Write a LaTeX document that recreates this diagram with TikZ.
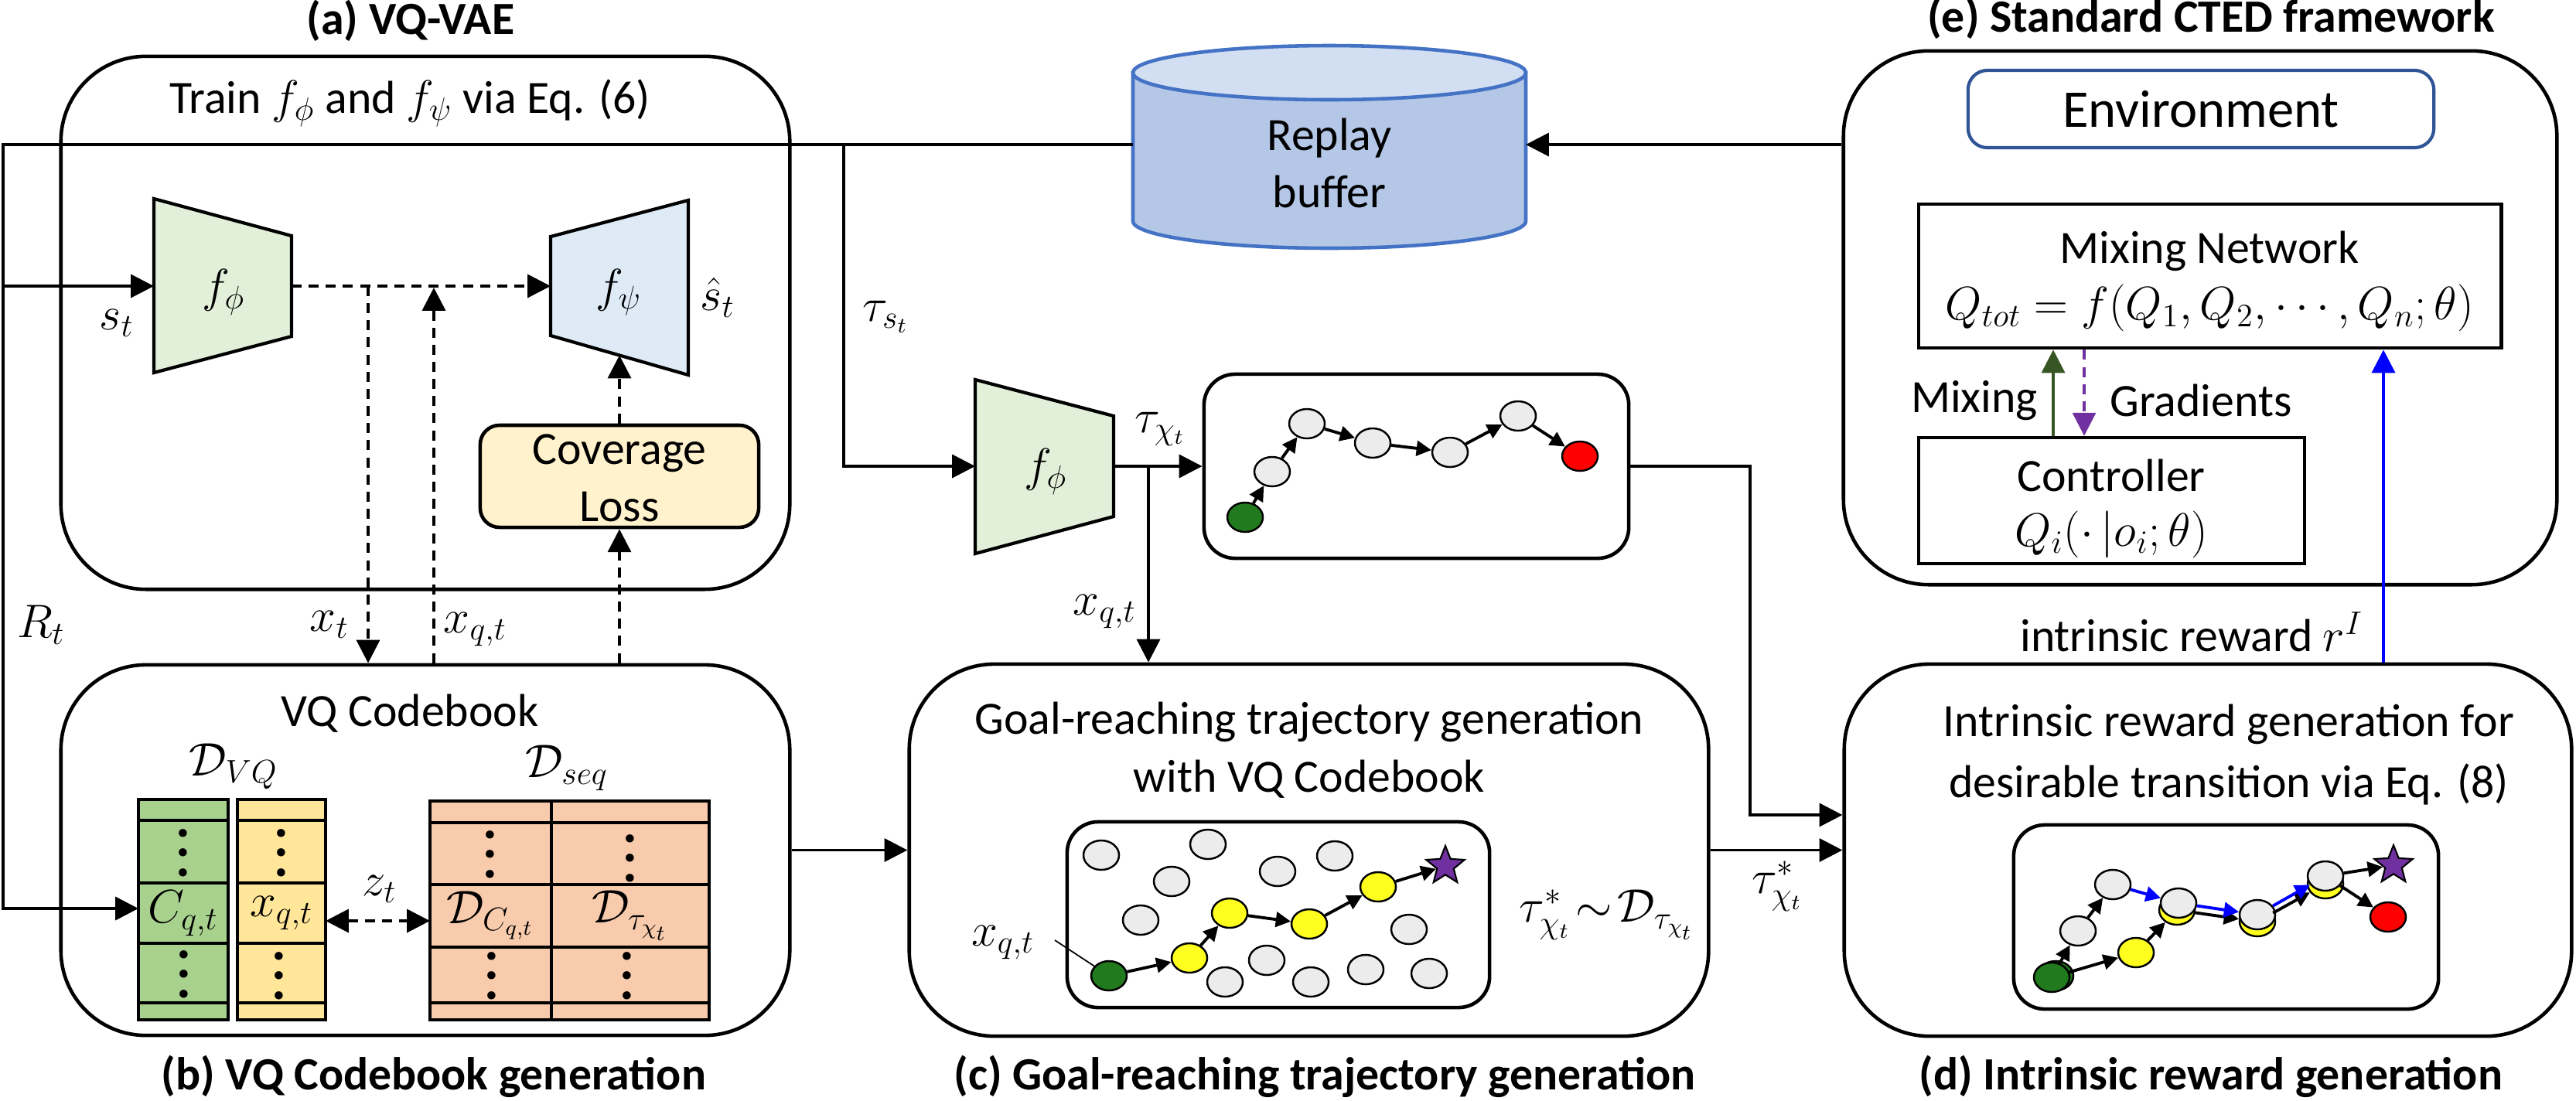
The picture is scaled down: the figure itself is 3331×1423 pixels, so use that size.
\documentclass[tikz,border=0pt]{standalone}
\usepackage{fontspec}
\setmainfont{Carlito}
\usetikzlibrary{arrows.meta,shapes.geometric}
\definecolor{encgreen}{HTML}{E2F0D9}
\definecolor{decblue}{HTML}{DEEBF7}
\definecolor{covyellow}{HTML}{FFF2CC}
\definecolor{cbgreen}{HTML}{A9D18E}
\definecolor{cbyellow}{HTML}{FFE699}
\definecolor{cborange}{HTML}{F8CBAD}
\definecolor{rbfill}{HTML}{B4C7E7}
\definecolor{rbtop}{HTML}{D2DEF2}
\definecolor{rbborder}{HTML}{4472C4}
\definecolor{envblue}{HTML}{2F5597}
\definecolor{nodegray}{HTML}{ECECEC}
\definecolor{nodeyellow}{HTML}{FFFF1F}
\definecolor{startgreen}{HTML}{217A1E}
\definecolor{goalpurple}{HTML}{7030A0}
\definecolor{mixgreen}{HTML}{375623}
\newcommand\bodyfont{\fontsize{17}{20.5}\selectfont}
\newcommand\titlefont{\fontsize{17}{20.5}\selectfont\bfseries}
\newcommand\envfont{\fontsize{19.5}{23}\selectfont}
\newcommand\trapfont{\fontsize{18}{22}\selectfont}
\newcommand\bigdots{{\fontsize{20}{20}\selectfont\bfseries\vbox{\baselineskip=7.2pt\lineskiplimit=-10pt\hbox{.}\hbox{.}\hbox{.}}}}
\begin{document}
\begin{tikzpicture}[x=0.01cm,y=-0.01cm,
  ln/.style={line width=1.1pt},
  arr/.style={line width=1.1pt,-{Triangle[length=8.5pt,width=8.5pt]}},
  darr/.style={arr,dash pattern=on 3.7pt off 2.6pt},
  ddarr/.style={line width=1.1pt,{Triangle[length=8.5pt,width=8.5pt]}-{Triangle[length=8.5pt,width=8.5pt]},dash pattern=on 3.7pt off 2.6pt},
  bigbox/.style={draw,line width=1.3pt,rounded corners=1.1cm,inner sep=0pt},
  smallbox/.style={draw,line width=1.3pt,rounded corners=0.4cm,inner sep=0pt},
  sqbox/.style={draw,line width=1.3pt,inner sep=0pt},
  tab/.style={line width=1.4pt},
  txt/.style={font=\bodyfont,inner sep=0pt},
  ttl/.style={font=\titlefont,inner sep=0pt},
  tn/.style={ellipse,draw,line width=0.7pt,minimum width=0.46cm,minimum height=0.38cm,inner sep=0pt},
  gn/.style={tn,fill=nodegray},
  yn/.style={tn,fill=nodeyellow},
  sn/.style={tn,fill=startgreen},
  rn/.style={tn,fill=red},
  goal/.style={star,star points=5,star point ratio=2.3,draw,line width=0.6pt,fill=goalpurple,minimum size=0.52cm,inner sep=0pt},
  tarr/.style={line width=1.1pt,-{Triangle[length=5.5pt,width=5.5pt]}},
  barr/.style={tarr,blue}
]
\useasboundingbox (0,0) rectangle (3331,1423);

% ---------------- titles
\node[ttl] (ttlA) at (531,27) {(a) VQ-VAE};
\node[ttl] (ttlE) at (2859,24) {(e) Standard CTED framework};
\node[ttl] (ttlB) at (561,1392) {(b) VQ Codebook generation};
\node[ttl] (ttlC) at (1713,1392) {(c) Goal-reaching trajectory generation};
\node[ttl] (ttlD) at (2859,1392) {(d) Intrinsic reward generation};

% ---------------- big boxes
\node[bigbox,minimum width=9.42cm,minimum height=6.89cm] (boxA) at (550,417.5) {};
\node[bigbox,minimum width=9.42cm,minimum height=4.79cm] (boxB) at (550,1099.5) {};
\node[bigbox,minimum width=10.33cm,minimum height=4.81cm] (boxC) at (1692.5,1099.5) {};
\node[bigbox,minimum width=9.40cm,minimum height=4.81cm] (boxD) at (2855,1099.5) {};
\node[bigbox,minimum width=9.22cm,minimum height=6.90cm] (boxE) at (2845,411) {};

% ---------------- (a) VQ-VAE
\node[txt] (trainTxt) at (530,133) {Train $f_\phi$ and $f_\psi$ via Eq. (6)};
\draw[line width=1.2pt,fill=encgreen] (199,257) -- (377,305) -- (377,435) -- (199,482) -- cycle;
\node[inner sep=0pt,font=\trapfont] (encTxt) at (289,378) {$f_\phi$};
\draw[line width=1.2pt,fill=decblue] (712,306) -- (890,259) -- (890,485) -- (712,434) -- cycle;
\node[inner sep=0pt,font=\trapfont] (decTxt) at (800,378) {$f_\psi$};
\node[txt] (shat) at (928,385) {$\hat{s}_t$};
\node[txt] (stLbl) at (151,418) {$s_t$};
\node[smallbox,rounded corners=0.25cm,fill=covyellow,minimum width=3.6cm,minimum height=1.32cm] (cov) at (801,616) {};
\node[txt,align=center] (covTxt) at (801,618) {Coverage\\[0.5pt]Loss};

% ---------------- replay buffer
\draw[rbborder,line width=1.3pt,fill=rbfill] (1465,94) -- (1465,286) -- plot[domain=180:0,samples=60] ({1719+254*cos(\x)},{286+35*sin(\x)}) -- (1973,94) -- cycle;
\draw[rbborder,line width=1.3pt,fill=rbtop] (1719,94) ellipse [x radius=254,y radius=35];
\node[txt,align=center] (rbTxt) at (1719,211) {Replay\\[0.5pt]buffer};

% ---------------- (b) VQ Codebook
\node[txt] (vqcb) at (530,923) {VQ Codebook};
\node[txt] (dvq) at (302,991) {$\mathcal{D}_{VQ}$};
\node[txt] (dseq) at (733,993) {$\mathcal{D}_{seq}$};
\draw[tab,fill=cbgreen] (179,1034) rectangle (295,1319);
\foreach \yy in {1061,1142,1220,1297} \draw[tab] (179,\yy) -- (295,\yy);
\draw[tab,fill=cbyellow] (307,1034) rectangle (421,1319);
\foreach \yy in {1061,1142,1220,1297} \draw[tab] (307,\yy) -- (421,\yy);
\draw[tab,fill=cborange] (556,1036) rectangle (917,1319);
\foreach \yy in {1064,1144,1225,1297} \draw[tab] (556,\yy) -- (917,\yy);
\draw[tab] (713,1036) -- (713,1319);
\node[txt] (cqt) at (237,1181) {$C_{q,t}$};
\node[txt] (xqtCell) at (364,1181) {$x_{q,t}$};
\node[txt] (dcq) at (634,1184) {$\mathcal{D}_{C_{q,t}}$};
\node[txt] (dtau) at (815,1184) {$\mathcal{D}_{\tau_{\chi_t}}$};
\node[inner sep=0pt] (v1) at (237,1103) {\bigdots};
\node[inner sep=0pt] (v2) at (364,1103) {\bigdots};
\node[inner sep=0pt] (v3) at (634,1105) {\bigdots};
\node[inner sep=0pt] (v4) at (815,1110) {\bigdots};
\node[inner sep=0pt] (v5) at (238,1260) {\bigdots};
\node[inner sep=0pt] (v6) at (361,1262) {\bigdots};
\node[inner sep=0pt] (v7) at (636,1262) {\bigdots};
\node[inner sep=0pt] (v8) at (811,1262) {\bigdots};
\coordinate (yelE) at (421,1191);
\coordinate (orW) at (556,1191);
\draw[ddarr] (yelE) -- (orW);
\node[txt] (zt) at (491,1150) {$z_t$};

% ---------------- labels around (a)/(b)
\node[txt] (RtLbl) at (53,808) {$R_t$};
\node[txt] (xtLbl) at (426,808) {$x_t$};
\node[txt,anchor=west] (xqLbl) at (573,814) {$x_{q,t}$};

% ---------------- trajectory box (top middle)
\draw[line width=1.2pt,fill=encgreen] (1261,491) -- (1440,538) -- (1440,668) -- (1261,716) -- cycle;
\node[inner sep=0pt,font=\trapfont] (enc2Txt) at (1352,610) {$f_\phi$};
\node[smallbox,minimum width=5.49cm,minimum height=2.38cm] (trbox) at (1831.5,603) {};
\node[sn] (t0) at (1610,669) {};
\node[gn] (t1) at (1645,610) {};
\node[gn] (t2) at (1690,548) {};
\node[gn] (t3) at (1775,573) {};
\node[gn] (t4) at (1875,585) {};
\node[gn] (t5) at (1963,538) {};
\node[rn] (t6) at (2043,590) {};
\draw[tarr] (t0) -- (t1);
\draw[tarr] (t1) -- (t2);
\draw[tarr] (t2) -- (t3);
\draw[tarr] (t3) -- (t4);
\draw[tarr] (t4) -- (t5);
\draw[tarr] (t5) -- (t6);
\node[txt] (tauSt) at (1145,410) {$\tau_{s_t}$};
\node[txt] (tauChi) at (1500,555) {$\tau_{\chi_t}$};
\node[txt,anchor=east] (xq2Lbl) at (1470,791) {$x_{q,t}$};

% ---------------- (c)
\node[txt,align=center] (cTxt) at (1693,970) {Goal-reaching trajectory generation\\[1pt]with VQ Codebook};
\node[smallbox,minimum width=5.46cm,minimum height=2.40cm] (cin) at (1653,1183) {};
\node[gn] (c1) at (1424,1106) {};
\node[gn] (c2) at (1562,1092) {};
\node[gn] (c3) at (1515,1140) {};
\node[gn] (c4) at (1652,1127) {};
\node[gn] (c5) at (1726,1107) {};
\node[gn] (c6) at (1475,1190) {};
\node[gn] (c7) at (1822,1202) {};
\node[gn] (c8) at (1638,1242) {};
\node[gn] (c9) at (1584,1270) {};
\node[gn] (c10) at (1695,1270) {};
\node[gn] (c11) at (1766,1254) {};
\node[gn] (c12) at (1848,1259) {};
\node[sn] (cs) at (1434,1262) {};
\node[yn] (cy1) at (1538,1239) {};
\node[yn] (cy2) at (1590,1181) {};
\node[yn] (cy3) at (1693,1195) {};
\node[yn] (cy4) at (1782,1147) {};
\node[goal] (cgoal) at (1869,1120) {};
\draw[tarr] (cs) -- (cy1);
\draw[tarr] (cy1) -- (cy2);
\draw[tarr] (cy2) -- (cy3);
\draw[tarr] (cy3) -- (cy4);
\draw[tarr] (cy4) -- (cgoal);
\node[txt] (xqC) at (1297,1219) {$x_{q,t}$};
\coordinate (ptr) at (1364,1216);
\draw[line width=0.5pt] (ptr) -- (cs);
\node[txt] (sampleTxt) at (2078,1183) {$\tau^{*}_{\chi_t}\!\sim\!\mathcal{D}_{\tau_{\chi_t}}$};
\node[txt] (tauStar) at (2298,1146) {$\tau^{*}_{\chi_t}$};

% ---------------- (d)
\node[txt,align=center] (dTxt) at (2882,976) {Intrinsic reward generation for\\[2pt]desirable transition via Eq. (8)};
\node[smallbox,minimum width=5.49cm,minimum height=2.38cm] (din) at (2878.5,1186) {};
\node[sn] (dsb) at (2658,1262) {};
\node[sn] (ds) at (2653,1264) {};
\node[gn] (da) at (2687,1204) {};
\node[gn] (db) at (2732,1144) {};
\node[yn] (dy) at (2762,1232) {};
\node[yn] (dcy) at (2815,1177) {};
\node[gn] (dcg) at (2817,1168) {};
\node[yn] (ddy) at (2919,1192) {};
\node[gn] (ddg) at (2919,1183) {};
\node[yn] (dey) at (3007,1143) {};
\node[gn] (deg) at (3007,1133) {};
\node[goal] (dgoal) at (3095,1119) {};
\node[rn] (dred) at (3088,1186) {};
\draw[tarr] (ds) -- (da);
\draw[tarr] (da) -- (db);
\draw[tarr] (ds) -- (dy);
\draw[tarr] (dy) -- (dcy);
\draw[tarr] (dcy) -- (ddy);
\draw[tarr] (ddy) -- (dey);
\draw[barr] (db) -- (dcg);
\draw[barr] (dcg) -- (ddg);
\draw[barr] (ddg) -- (deg);
\draw[tarr] (deg) -- (dgoal);
\draw[tarr] (deg) -- (dred);

% ---------------- (e)
\node[draw=envblue,line width=1.2pt,rounded corners=0.25cm,minimum width=6.02cm,minimum height=1.0cm,inner sep=0pt] (env) at (2846,141) {};
\node[inner sep=0pt,font=\envfont] (envTxt) at (2846,141) {Environment};
\node[sqbox,minimum width=7.53cm,minimum height=1.86cm] (mix) at (2857.5,357) {};
\node[txt] (mixTxt) at (2857,325) {Mixing Network};
\node[txt] (mixEq) at (2857,398) {$Q_{tot}=f(Q_1,Q_2,\cdots,Q_n;\theta)$};
\node[sqbox,minimum width=4.99cm,minimum height=1.63cm] (ctrl) at (2730.5,647.5) {};
\node[txt] (ctrlTxt) at (2730,615) {Controller};
\node[txt] (ctrlEq) at (2730,691) {$Q_i(\cdot\,|o_i;\theta)$};
\node[txt] (mixLbl) at (2553,518) {Mixing};
\node[txt] (gradLbl) at (2846,518) {Gradients};
\coordinate (mixX) at (2655,500);
\coordinate (gradX) at (2695,500);
\draw[line width=1pt,mixgreen,-{Triangle[length=8.5pt,width=8.5pt]}] (mixX |- ctrl.north) -- (mixX |- mix.south);
\draw[line width=0.9pt,goalpurple,dash pattern=on 3.7pt off 2.6pt,-{Triangle[length=8.5pt,width=8.5pt]}] (gradX |- mix.south) -- (gradX |- ctrl.north);
\node[txt] (rILbl) at (2834,817) {intrinsic reward $r^I$};
\coordinate (rI) at (3082,600);
\draw[line width=1.1pt,blue,-{Triangle[length=8.5pt,width=8.5pt]}] (rI |- boxD.north) -- (rI |- mix.south);

% ---------------- connectors
\coordinate (rbW) at (1465,187);
\coordinate (rbE) at (1973,187);
\coordinate (tl) at (4,187);
\coordinate (bl) at (4,1175);
\coordinate (cqW) at (179,1175);
\coordinate (stJ) at (4,370);
\coordinate (encW) at (199,370);
\coordinate (encE) at (377,370);
\coordinate (decW) at (712,370);
\coordinate (decB) at (801,459.5);
\coordinate (xtT) at (476,370);
\coordinate (xqT) at (561,372);
\coordinate (cvX) at (801,700);
\coordinate (tauJ) at (1091,187);
\coordinate (tauC) at (1091,603);
\coordinate (enc2W) at (1261,603);
\coordinate (enc2E) at (1440,603);
\coordinate (xq2J) at (1485,603);
\coordinate (trTurn) at (2263,603);
\coordinate (trDown) at (2263,1054);

\draw[arr] (boxE.west |- rbE) -- (rbE);
\draw[arr] (rbW) -- (tl) -- (bl) -- (cqW);
\draw[arr] (stJ) -- (encW);
\draw[arr] (tauJ) -- (tauC) -- (enc2W);
\draw[darr] (encE) -- (decW);
\draw[darr] (xtT) -- (xtT |- boxB.north);
\draw[darr] (xqT |- boxB.north) -- (xqT);
\draw[darr] (cvX |- boxB.north) -- (cov.south);
\draw[darr] (cov.north) -- (decB);
\draw[arr] (boxB.east) -- (boxC.west);
\draw[arr] (enc2E) -- (trbox.west);
\draw[arr] (xq2J) -- (xq2J |- boxC.north);
\draw[arr] (trbox.east) -- (trTurn) -- (trDown) -- (trDown -| boxD.west);
\draw[arr] (boxC.east) -- (boxD.west);
\end{tikzpicture}
\end{document}
